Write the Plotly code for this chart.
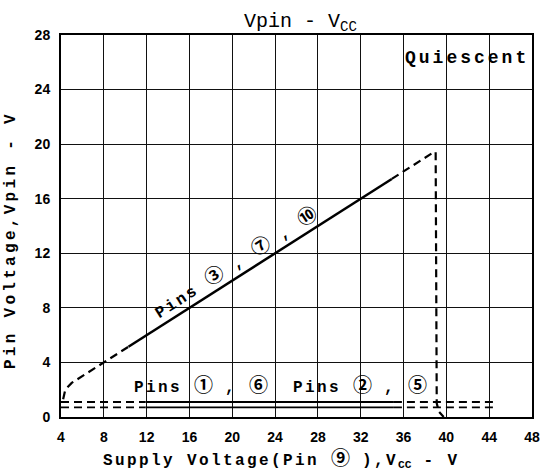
import plotly.graph_objects as go

# ---- data ----
pins3_dash_lo_x = [4.2, 4.4, 5.0, 10.3]
pins3_dash_lo_y = [1.3, 2.0, 2.5, 5.15]
pins3_solid_x = [10.3, 34.9]
pins3_solid_y = [5.15, 17.45]
pins3_dash_hi_x = [34.9, 38.8]
pins3_dash_hi_y = [17.45, 19.4]
drop_x = [39.0, 39.1, 39.3, 39.75]
drop_y = [19.4, 1.0, 0.4, 0.0]

pins16_y = 1.1
pins25_y = 0.7
flat_dash_lo_x = [4.0, 11.9]
flat_solid_x = [11.9, 35.1]
flat_dash_hi_x = [35.1, 44.6]

x_ticks = [4, 8, 12, 16, 20, 24, 28, 32, 36, 40, 44, 48]
y_ticks = [0, 4, 8, 12, 16, 20, 24, 28]

MONO = "Liberation Mono"
TICKF = "Liberation Sans"
DASH = "8px,5px"


def sp(txt, ls=2.4):
    return "<span style=\"letter-spacing:%.1fpx\">%s</span>" % (ls, txt)


def circ(ch, size=19):
    return ("<span style=\"font-family:'Noto Sans CJK JP';font-size:%dpx\">%s</span>"
            % (size, ch))


fig = go.Figure()


def seg(x, y, dash, w=2.0):
    fig.add_trace(go.Scatter(x=x, y=y, mode="lines", showlegend=False,
                             line=dict(color="black", width=w, dash=dash),
                             hoverinfo="skip"))


seg(pins3_dash_lo_x, pins3_dash_lo_y, DASH, 2.2)
seg(pins3_solid_x, pins3_solid_y, "solid", 2.5)
seg(pins3_dash_hi_x, pins3_dash_hi_y, DASH, 2.2)
seg(drop_x, drop_y, DASH, 2.2)

for yv in (pins16_y, pins25_y):
    seg(flat_dash_lo_x, [yv, yv], DASH, 1.8)
    seg(flat_solid_x, [yv, yv], "solid", 1.8)
    seg(flat_dash_hi_x, [yv, yv], DASH, 1.8)

lbl_font = dict(family=MONO, size=16, color="black")
annots = [
    dict(xref="paper", yref="paper", x=0.508, y=1.034, xanchor="center", yanchor="middle",
         text="Vpin - V<sub>CC</sub>", showarrow=False,
         font=dict(family=MONO, size=20, color="black")),
    dict(x=47.86, y=27.2, text="<b>" + sp("Quiescent", 3.0) + "</b>", xanchor="right", yanchor="top",
         font=dict(family=MONO, size=18, color="black"), showarrow=False),
    dict(x=17.1, y=2.42, text="<b>" + sp("Pins ") + circ("①") + sp(" , ") + circ("⑥") + "</b>",
         showarrow=False, font=lbl_font),
    dict(x=31.9, y=2.42, text="<b>" + sp("Pins ") + circ("②") + sp(" , ") + circ("⑤") + "</b>",
         showarrow=False, font=lbl_font),
    dict(x=20.2, y=11.45,
         text="<b>" + sp("Pins ") + circ("③") + sp(" , ") + circ("⑦") + sp(" , ") + circ("⑩") + "</b>",
         showarrow=False, textangle=-32.5, font=lbl_font),
    dict(xref="paper", yref="paper", x=0.468, y=-0.105, xanchor="center", yanchor="middle",
         text="<b>" + sp("Supply Voltage(Pin ") + circ("⑨") + sp(" ),V") + "<sub>CC</sub>" + sp(" - V") + "</b>",
         showarrow=False, font=dict(family=MONO, size=16, color="black")),
    dict(xref="paper", yref="paper", x=-0.107, y=0.462, xanchor="center", yanchor="middle",
         text="<b>" + sp("Pin Voltage,Vpin - V", 3.3) + "</b>", textangle=-90,
         showarrow=False, font=dict(family=MONO, size=16, color="black")),
]

fig.update_layout(
    template="none",
    width=542, height=473,
    margin=dict(l=61, r=10, t=35, b=56),
    paper_bgcolor="white", plot_bgcolor="white",
    annotations=annots,
    xaxis=dict(range=[4, 48], tickvals=x_ticks, ticktext=[str(v) for v in x_ticks],
               showgrid=True, gridcolor="#111111", gridwidth=1,
               showline=True, linecolor="black", linewidth=2, mirror=True,
               ticks="", zeroline=False, automargin=False, ticklabelstandoff=6,
               tickfont=dict(family=TICKF, size=14, color="black", weight="bold")),
    yaxis=dict(range=[0, 28], tickvals=y_ticks, ticktext=[str(v) for v in y_ticks],
               showgrid=True, gridcolor="#111111", gridwidth=1,
               showline=True, linecolor="black", linewidth=2, mirror=True,
               ticks="", zeroline=False, automargin=False, ticklabelstandoff=6,
               tickfont=dict(family=TICKF, size=14, color="black", weight="bold")),
)

# remove the default 8px page margin so the figure sits at the window's top-left corner
fig.write_html("out.html", config={"displayModeBar": False},
               post_script="document.body.style.margin='0';")
